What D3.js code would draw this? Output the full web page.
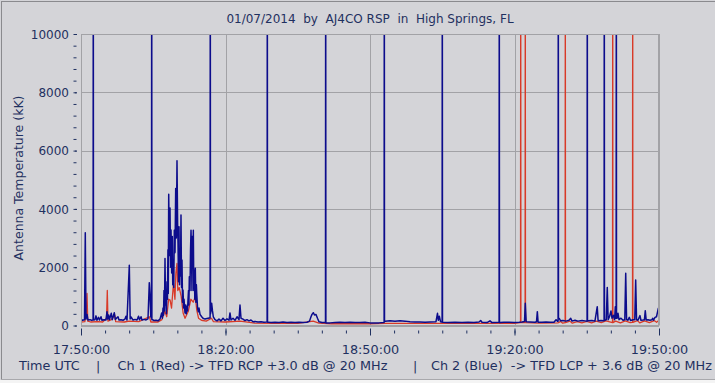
<!DOCTYPE html>
<html>
<head>
<meta charset="utf-8">
<script src="https://cdn.jsdelivr.net/npm/d3@7"></script>
<style>
  html, body { margin: 0; padding: 0; background: #d4d4d8; }
  svg { display: block; }
  text { fill: #1f3060; }
</style>
</head>
<body>
<svg id="chart" width="715" height="383"></svg>
<script>
// ---- DATA (minutes after 17:50:00 UTC, antenna temperature kK) ----
const chartTitle = "01/07/2014  by  AJ4CO RSP  in  High Springs, FL";
const yAxisTitle = "Antenna Temperature (kK)";
const footerParts = ["Time UTC", "|", "Ch 1 (Red) -> TFD RCP +3.0 dB @ 20 MHz", "|", "Ch 2 (Blue)  -> TFD LCP + 3.6 dB @ 20 MHz"];
const yMajorTicks = [0, 2000, 4000, 6000, 8000, 10000];
const xMajorMinutes = [0, 30, 60, 90, 120];
const xStartUTC = [2014, 0, 7, 17, 50, 0];
const xSpanMinutes = 120;

// Ch 2 (Blue) samples [minute, value]; values above 10000 saturate at top
const blueSeries = [
  [0,210],[0.31,180],[0.73,200],[0.89,3180],[1.04,220],[1.25,380],[1.45,190],[1.87,200],[2.18,180],
  [2.51,190],[2.55,15000],[2.59,190],[2.91,200],[3.11,330],[3.32,180],[3.63,280],[3.84,190],[4.15,300],[4.36,180],[4.78,200],
  [5.19,190],[5.40,475],[5.56,220],[5.75,360],[5.92,200],[6.29,420],[6.50,200],[6.91,440],[7.12,210],
  [7.68,300],[7.89,190],[8.30,200],[8.72,180],[9.13,220],[9.34,320],[9.55,190],[10.03,2070],[10.21,220],
  [10.38,290],[10.80,190],[11.21,210],[11.63,190],[11.94,320],[12.15,200],[12.46,300],[12.67,190],
  [13.08,210],[13.50,190],[13.91,230],[14.18,1470],[14.32,1100],[14.49,300],[14.64,250],[14.68,15000],[14.72,200],[14.87,200],
  [15.16,170],[15.57,180],[15.99,160],[16.40,220],[16.75,430],[16.9,250],[17.03,600],[17.13,350],[17.23,1200],[17.33,500],[17.44,2300],
  [17.55,700],[17.65,800],[17.75,400],[17.85,1500],[17.95,900],[18.05,2600],[18.12,1100],[18.21,4500],[18.35,2400],[18.48,4030],[18.60,2000],[18.69,3280],[18.83,1800],
  [18.95,3050],[19.05,1400],[19.16,2250],[19.26,1300],[19.37,3270],[19.52,2500],[19.66,4700],[19.79,3000],[19.93,5650],[20.06,3500],
  [20.14,2830],[20.25,1500],[20.35,3390],[20.45,1400],[20.55,2600],[20.65,1700],[20.76,3790],[20.87,1300],[20.97,2250],[21.08,800],[21.18,1220],[21.30,600],[21.39,900],[21.59,430],
  [21.75,700],[21.85,400],[21.95,650],[22.11,500],[22.22,900],[22.32,1200],[22.40,700],[22.49,1670],[22.63,1200],[22.74,2600],[22.84,3270],[22.97,2200],[23.04,1200],[23.11,3050],
  [23.21,2000],[23.32,3270],[23.42,1200],[23.53,1900],[23.63,900],[23.73,1960],[23.85,800],[23.95,1400],[24.03,1100],[24.2,600],[24.35,470],[24.5,600],[24.71,380],[25.06,300],
  [25.33,250],[25.74,220],[26.16,240],[26.64,260],[26.80,260],[26.84,15000],[26.88,400],[26.99,500],[27.13,760],[27.30,500],
  [27.47,300],[27.82,200],[28.24,160],[28.65,220],[29.07,160],[29.48,250],[29.90,170],[30.31,230],
  [30.73,180],[30.93,430],[31.14,190],[31.56,250],[31.97,180],[32.39,300],[32.80,200],[33.01,700],
  [33.22,250],[33.63,220],[34.05,170],[34.46,200],[34.88,160],[35.29,190],[35.71,130],[36.12,140],
  [36.75,120],[37.37,130],[37.99,110],[38.51,120],[38.64,120],[38.68,15000],[38.72,110],[38.86,110],[39.45,100],[40.28,110],
  [41.11,100],[41.94,120],[42.77,100],[43.60,110],[44.43,100],[45.26,110],[46.09,100],[46.92,110],
  [47.44,150],[47.75,300],[47.96,380],[48.23,440],[48.48,360],[48.79,380],[49.10,250],[49.41,130],
  [50.03,100],[50.61,100],[50.76,100],[50.80,15000],[50.84,90],[50.99,90],[51.69,90],[52.73,100],[53.77,110],[54.81,100],
  [55.85,110],[56.89,100],[57.92,100],[58.96,110],[60.00,90],[61.04,90],[61.87,90],[62.80,100],
  [62.93,100],[62.97,15000],[63.01,150],[63.16,150],[64.15,160],[65.19,150],[66.23,160],[67.27,150],[68.31,130],[69.34,120],
  [70.38,120],[71.42,110],[72.46,120],[73.70,130],[74.01,420],[74.18,180],[74.39,320],[74.64,130],
  [74.85,120],[74.97,120],[75.01,15000],[75.05,110],[75.17,110],[76.19,100],[77.65,110],[79.10,100],[80.35,110],[81.59,100],
  [82.63,120],[82.98,170],[83.25,110],[84.29,100],[84.91,160],[85.33,100],[86.68,110],[86.80,110],[86.84,15000],
  [86.88,100],[87.01,100],[87.82,110],[88.86,110],[89.90,100],[90.94,110],[91.56,120],[92.08,140],[92.24,760],
  [92.43,130],[93.22,120],[94.26,110],[94.57,130],[94.74,475],[94.90,110],[95.71,110],[96.54,120],
  [97.37,110],[98.20,110],[98.62,200],[98.93,150],[99.05,150],[99.09,15000],[99.13,250],[99.28,250],[99.55,160],[100.07,170],
  [100.69,150],[101.31,180],[101.67,245],[101.94,150],[102.56,180],[103.18,150],[104.01,170],[104.94,150],
  [105.07,150],[105.11,15000],[105.15,160],[105.29,160],[106.08,170],[106.70,150],[107.18,645],[107.36,160],[107.96,170],[108.47,160],
  [108.60,160],[108.64,15000],[108.68,180],[108.82,180],[109.05,200],[109.26,1300],[109.44,200],[109.72,300],[110.03,500],[110.24,250],
  [110.55,350],[110.78,200],[110.93,645],[111.03,250],[111.10,250],[111.14,15000],[111.18,250],[111.32,250],[111.49,420],[111.70,200],[112.11,250],
  [112.53,180],[112.90,200],[113.09,1790],[113.27,200],[113.56,180],[113.83,280],[114.08,170],[114.60,200],
  [114.97,200],[115.16,1560],[115.34,200],[115.63,180],[116.05,340],[116.25,180],[116.67,190],[116.98,200],
  [117.15,510],[117.34,190],[117.71,200],[118.13,180],[118.54,200],[118.69,250],[118.86,180],[119.17,280],
  [119.48,300],[119.86,590],[120.00,420]
];

// Ch 1 (Red) samples [minute, value]
const redSeries = [
  [0,120],[0.8,130],[1.1,400],[1.25,1100],[1.4,150],[2,120],[3.5,130],[4.5,120],[5.3,250],[5.46,1200],
  [5.6,150],[6.3,200],[7.0,360],[7.2,130],[9,120],[10,150],[12,130],[14.2,300],[14.5,120],[16,120],
  [16.8,200],[17.4,500],[17.8,300],[18.2,900],[18.5,870],[18.8,600],[19.2,1450],[19.5,900],[19.7,1800],
  [19.93,2130],[20.1,1200],[20.4,1300],[20.8,1000],[21.2,430],[21.6,250],[22.3,500],[22.8,900],[23.3,800],
  [23.73,990],[24.03,530],[24.4,250],[25,180],[26,150],[27.1,250],[27.5,130],[30,120],[33,150],[35,110],
  [36,80],[40,75],[45,70],[48.2,150],[49.4,80],[52,60],[55,60],[60,60],[63,70],[70,70],[75,75],[80,70],
  [85,70],[90,75],[91.25,100],[91.29,15000],[91.33,100],[92.20,100],[92.24,15000],[92.28,100],[95,80],
  [99,90],[99.6,140],[100,80],[100.51,100],[100.55,15000],[100.59,100],[101.5,150],[102,80],[103,130],
  [104,90],[105,140],[106,90],[107,150],[108,100],[109,160],[110.35,100],[110.39,15000],[110.43,100],
  [111,150],[112,90],[113,160],[114,100],[114.50,110],[114.54,15000],[114.58,110],[115.5,170],[116,90],
  [117,160],[118,100],[119,170],[119.5,110],[120,180]
];

// ---- CHART ----
const W = 715, H = 383;
const svg = d3.select("#chart");
const plot = { left: 81, right: 659, top: 34, bottom: 325.5 };
const t0 = new Date(Date.UTC(...xStartUTC));
const toDate = m => new Date(t0.getTime() + m * 60000);

const x = d3.scaleUtc().domain([t0, toDate(xSpanMinutes)]).range([plot.left, plot.right]);
const y = d3.scaleLinear().domain([0, 10000]).range([plot.bottom, plot.top]);

// background & frame
svg.append("rect").attr("x", 0).attr("y", 0).attr("width", W).attr("height", H).attr("fill", "#d4d4d8");
svg.append("rect").attr("x", 0).attr("y", 380).attr("width", W).attr("height", 3).attr("fill", "#f4f4f4");
svg.append("line").attr("x1", 1.5).attr("x2", 1.5).attr("y1", 1).attr("y2", 380).attr("stroke", "#8a8a8e");
svg.append("line").attr("x1", 1).attr("x2", W).attr("y1", 1.5).attr("y2", 1.5).attr("stroke", "#8a8a8e");
svg.append("line").attr("x1", 1).attr("x2", W).attr("y1", 379.5).attr("y2", 379.5).attr("stroke", "#a8a8ac");

// gridlines
const majorTimes = xMajorMinutes.map(toDate);
const grid = svg.append("g").attr("stroke", "#a2a2a6").attr("stroke-width", 1);
grid.selectAll(".hg").data(yMajorTicks).join("line")
  .attr("x1", plot.left).attr("x2", plot.right)
  .attr("y1", d => Math.round(y(d)) + 0.5).attr("y2", d => Math.round(y(d)) + 0.5);
grid.selectAll(".vg").data(majorTimes).join("line")
  .attr("x1", d => Math.round(x(d)) + 0.5).attr("x2", d => Math.round(x(d)) + 0.5)
  .attr("y1", plot.top).attr("y2", plot.bottom);

// clip
svg.append("clipPath").attr("id", "clip").append("rect")
  .attr("x", plot.left).attr("y", plot.top).attr("width", plot.right - plot.left).attr("height", plot.bottom - plot.top + 2);

const line = d3.line().x(d => x(toDate(d[0]))).y(d => y(d[1]));
const series = svg.append("g").attr("clip-path", "url(#clip)");
series.append("path").datum(redSeries).attr("d", line)
  .attr("fill", "none").attr("stroke", "#d83a28").attr("stroke-width", 1.3).attr("stroke-linejoin", "round");
series.append("path").datum(blueSeries).attr("d", line)
  .attr("fill", "none").attr("stroke", "#0c0c8c").attr("stroke-width", 1.5).attr("stroke-linejoin", "round");

// x axis
const fmt = d3.utcFormat("%H:%M:%S");
const minorTimes = d3.range(0, xSpanMinutes + 1, 5).map(toDate);
const xMinor = svg.append("g").attr("transform", "translate(0,330.5)")
  .call(d3.axisBottom(x).tickValues(minorTimes).tickSize(3).tickFormat(""));
xMinor.select(".domain").remove();
xMinor.selectAll("line").attr("stroke", "#1f3060");
const xMajor = svg.append("g").attr("transform", "translate(0,328.5)")
  .call(d3.axisBottom(x).tickValues(majorTimes).tickSize(7).tickFormat(fmt));
xMajor.select(".domain").remove();
xMajor.selectAll("line").attr("stroke", "#1f3060");
xMajor.selectAll("text").attr("y", 25.5).attr("dy", 0)
  .style("font-family", "'DejaVu Sans', Verdana, sans-serif").style("font-size", "12.8px").style("fill", "#1f3060");

// y axis
const yMinor = svg.append("g").attr("transform", "translate(76.5,0)")
  .call(d3.axisLeft(y).tickValues(d3.range(0, 10001, 400)).tickSize(3).tickFormat(""));
yMinor.select(".domain").remove();
yMinor.selectAll("line").attr("stroke", "#1f3060");
const yMajor = svg.append("g").attr("transform", "translate(77,0)")
  .call(d3.axisLeft(y).tickValues(yMajorTicks).tickSize(2).tickPadding(6).tickFormat(d3.format("d")));
yMajor.select(".domain").remove();
yMajor.selectAll("line").attr("stroke", "#1f3060");
yMajor.selectAll("text").attr("dy", "0.36em")
  .style("font-family", "'DejaVu Sans', Verdana, sans-serif").style("font-size", "12px").style("fill", "#1f3060");

// plot frame
svg.append("rect").attr("x", plot.left + 0.5).attr("y", plot.top + 0.5)
  .attr("width", plot.right - plot.left - 1).attr("height", plot.bottom - plot.top - 0.5)
  .attr("fill", "none").attr("stroke", "#a2a2a6");

// title
svg.append("text").attr("x", 370).attr("y", 23).attr("text-anchor", "middle")
  .style("font-family", "'DejaVu Sans', Verdana, sans-serif").style("font-size", "12px")
  .style("white-space", "pre").attr("xml:space", "preserve").text(chartTitle);

// y axis title
svg.append("text").attr("transform", "translate(23,178) rotate(-90)").attr("text-anchor", "middle")
  .style("font-family", "'DejaVu Sans', Verdana, sans-serif").style("font-size", "12.5px").text(yAxisTitle);

// footer
const footerX = [19, 96, 117.5, 413, 431];
svg.selectAll(".footer").data(footerParts).join("text")
  .attr("x", (d, i) => footerX[i]).attr("y", 370)
  .style("font-family", "'DejaVu Sans', Verdana, sans-serif").style("font-size", "12.8px")
  .style("white-space", "pre").attr("xml:space", "preserve").text(d => d);
</script>
</body>
</html>
